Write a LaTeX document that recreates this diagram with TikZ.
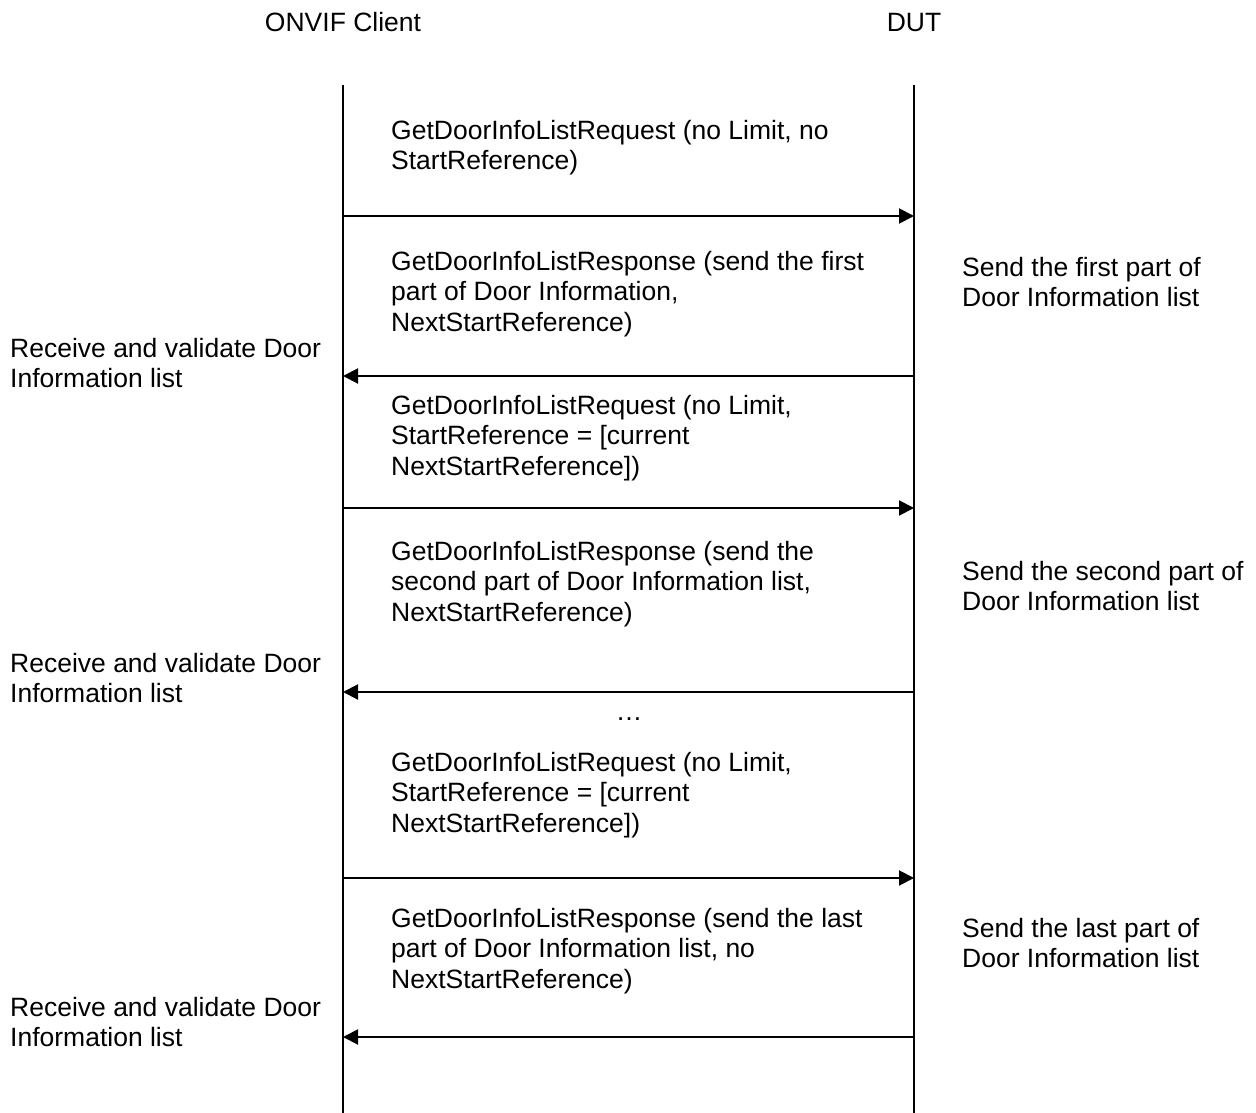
\documentclass[tikz,border=0pt]{standalone}
\usepackage{fontspec}
\setmainfont{Liberation Sans}
\usetikzlibrary{arrows.meta}
\begin{document}
\begin{tikzpicture}[x=1pt,y=-1pt,
  lifeline/.style={line width=1.6pt,black},
  msg/.style={line width=2pt,-{Triangle[length=15pt,width=15pt]}},
  txt/.style={anchor=base west,inner sep=0pt,align=left,font=\fontsize{26.5}{30.5}\selectfont},
  hdr/.style={anchor=base,inner sep=0pt,font=\fontsize{26.5}{30.5}\selectfont}]
\useasboundingbox (0,0) rectangle (1256,1113);

% participants
\node[hdr] (hc) at (343,32) {ONVIF Client};
\node[hdr] (hd) at (914,32) {DUT};

% lifelines
\coordinate (ct) at (343,85);  \coordinate (cb) at (343,1113);
\coordinate (dt) at (914,85);  \coordinate (db) at (914,1113);
\draw[lifeline] (ct) -- (cb);
\draw[lifeline] (dt) -- (db);

% message anchor points on the lifelines
\foreach \n/\y in {1/216,2/376,3/508,4/692,5/878,6/1037}{
  \coordinate (c\n) at (343,\y);
  \coordinate (d\n) at (914,\y);
}
\draw[msg] (c1) -- (d1);
\draw[msg] (d2) -- (c2);
\draw[msg] (c3) -- (d3);
\draw[msg] (d4) -- (c4);
\draw[msg] (c5) -- (d5);
\draw[msg] (d6) -- (c6);

% message labels (placed by the baseline of their last line)
\node[txt] (m1) at (391,169.5) {GetDoorInfoListRequest (no Limit, no\\StartReference)};
\node[txt] (m2) at (391,331) {GetDoorInfoListResponse (send the first\\part of Door Information,\\NextStartReference)};
\node[txt] (m3) at (391,475) {GetDoorInfoListRequest (no Limit,\\StartReference = [current\\NextStartReference])};
\node[txt] (m4) at (391,621) {GetDoorInfoListResponse (send the\\second part of Door Information list,\\NextStartReference)};
\node[txt] (m5) at (391,832) {GetDoorInfoListRequest (no Limit,\\StartReference = [current\\NextStartReference])};
\node[txt] (m6) at (391,988) {GetDoorInfoListResponse (send the last\\part of Door Information list, no\\NextStartReference)};
\node[hdr] (dots) at (629,720) {\dots};

% client side notes
\node[txt] (l1) at (10,387.5) {Receive and validate Door\\Information list};
\node[txt] (l2) at (10,702.5) {Receive and validate Door\\Information list};
\node[txt] (l3) at (10,1046.5) {Receive and validate Door\\Information list};

% device side notes
\node[txt] (r1) at (962,306.5) {Send the first part of\\Door Information list};
\node[txt] (r2) at (962,610.5) {Send the second part of\\Door Information list};
\node[txt] (r3) at (962,967.5) {Send the last part of\\Door Information list};
\end{tikzpicture}
\end{document}
